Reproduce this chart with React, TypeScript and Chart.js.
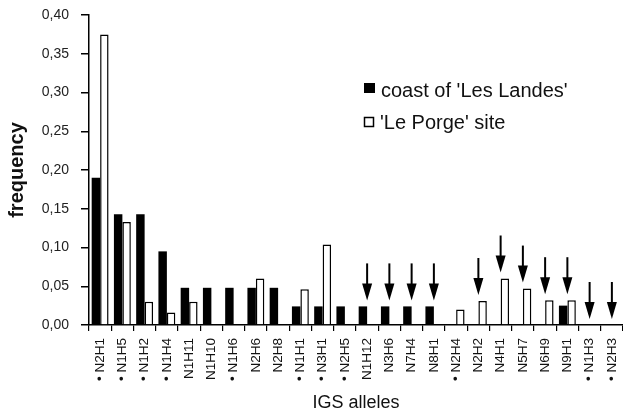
import React, { useEffect, useRef } from "react";
import { Chart, registerables } from "chart.js";

Chart.register(...registerables);

const alleles: string[] = [
  "• N2H1", "• N1H5", "• N1H2", "• N1H4", "N1H11", "N1H10", "• N1H6", "N2H6",
  "N2H8", "• N1H1", "• N3H1", "• N2H5", "N1H12", "N3H6", "N7H4", "N8H1",
  "• N2H4", "N2H2", "N4H1", "N5H7", "N6H9", "N9H1", "• N1H3", "• N2H3",
];

const coast: number[] = [
  0.19, 0.143, 0.143, 0.095, 0.048, 0.048, 0.048, 0.048,
  0.048, 0.024, 0.024, 0.024, 0.024, 0.024, 0.024, 0.024,
  0, 0, 0, 0, 0, 0.025, 0, 0,
];

const porge: number[] = [
  0.375, 0.133, 0.03, 0.016, 0.03, 0, 0, 0.06,
  0, 0.046, 0.104, 0, 0, 0, 0, 0,
  0.02, 0.031, 0.06, 0.047, 0.032, 0.032, 0, 0,
];

const arrowed: string[] = [
  "N1H12", "N3H6", "N7H4", "N8H1", "N2H2", "N4H1", "N5H7", "N6H9", "N9H1", "• N1H3", "• N2H3",
];

const seriesNames: string[] = ["coast of 'Les Landes'", "'Le Porge' site"];

const FONT = "'Liberation Sans', Arial, Helvetica, sans-serif";

const overlayPlugin = {
  id: "overlay",
  afterDatasetsDraw(chart: any) {
    const ctx = chart.ctx as CanvasRenderingContext2D;
    const xs = chart.scales.x;
    const ys = chart.scales.y;
    ctx.save();
    ctx.fillStyle = "#000";
    ctx.strokeStyle = "#000";
    for (const name of arrowed) {
      const i = alleles.indexOf(name);
      if (i < 0) continue;
      const v = Math.max(coast[i] || 0, porge[i] || 0);
      const x = xs.getPixelForValue(i);
      const tip = ys.getPixelForValue(v) - 6;
      ctx.lineWidth = 2;
      ctx.beginPath();
      ctx.moveTo(x, tip - 37);
      ctx.lineTo(x, tip - 15);
      ctx.stroke();
      ctx.beginPath();
      ctx.moveTo(x - 5, tip - 17);
      ctx.lineTo(x + 5, tip - 17);
      ctx.lineTo(x, tip);
      ctx.closePath();
      ctx.fill();
    }
    // legend
    ctx.fillStyle = "#000";
    ctx.fillRect(364, 83, 11, 10);
    ctx.lineWidth = 1.5;
    ctx.fillStyle = "#fff";
    ctx.fillRect(364.5, 117.5, 9, 9);
    ctx.strokeRect(364.5, 117.5, 9, 9);
    ctx.fillStyle = "#111";
    ctx.font = `20px ${FONT}`;
    ctx.textBaseline = "alphabetic";
    ctx.textAlign = "left";
    ctx.fillText(chart.data.datasets[0].label, 381, 97);
    ctx.fillText(chart.data.datasets[1].label, 380, 129);
    ctx.restore();
  },
};

export default function App() {
  const ref = useRef<HTMLCanvasElement | null>(null);

  useEffect(() => {
    if (!ref.current) return;
    const chart = new Chart(ref.current, {
      type: "bar",
      data: {
        labels: alleles,
        datasets: [
          {
            label: seriesNames[0],
            data: coast,
            backgroundColor: "#000",
            borderWidth: 0,
            categoryPercentage: 0.76,
            barPercentage: 1,
          },
          {
            label: seriesNames[1],
            data: porge,
            backgroundColor: "#fff",
            borderColor: "#000",
            borderWidth: 1.5,
            categoryPercentage: 0.76,
            barPercentage: 1,
          },
        ],
      },
      options: {
        animation: false,
        responsive: false,
        devicePixelRatio: 1,
        layout: { padding: { top: 15, left: 0, right: 0, bottom: 0 } },
        plugins: {
          legend: { display: false },
          tooltip: { enabled: false },
        },
        scales: {
          x: {
            afterFit: (s: any) => {
              s.height = 86;
              s.paddingLeft = 0;
              s.paddingRight = 0;
            },
            border: { color: "#000", width: 1.5 },
            grid: {
              display: true,
              drawOnChartArea: false,
              drawTicks: true,
              tickLength: 6,
              color: "#000",
              lineWidth: 1.2,
              offset: true,
            },
            ticks: {
              autoSkip: false,
              minRotation: 90,
              maxRotation: 90,
              padding: 7,
              color: "#111",
              font: { family: FONT, size: 13.5 },
            },
            title: {
              display: true,
              text: "IGS alleles",
              color: "#111",
              font: { family: FONT, size: 18 },
              padding: { top: 0, bottom: -3 },
            },
          },
          y: {
            min: 0,
            max: 0.4,
            afterFit: (s: any) => {
              s.width = 89;
              s.paddingTop = 0;
              s.paddingBottom = 0;
            },
            border: { color: "#000", width: 1.5 },
            grid: {
              display: true,
              drawOnChartArea: false,
              drawTicks: true,
              tickLength: 8,
              color: "#000",
              lineWidth: 1.5,
            },
            ticks: {
              stepSize: 0.05,
              padding: 12,
              color: "#222",
              font: { family: FONT, size: 14 },
              callback: (v: any) => Number(v).toFixed(2).replace(".", ","),
            },
            title: {
              display: true,
              text: "frequency",
              color: "#111",
              font: { family: FONT, size: 20, weight: "bold" },
              padding: { top: 5, bottom: 0 },
            },
          },
        },
      },
      plugins: [overlayPlugin],
    });
    return () => chart.destroy();
  }, []);

  return (
    <div style={{ position: "absolute", left: 0, top: 0, width: 623, height: 411, background: "#fff" }}>
      <canvas ref={ref} width={623} height={411} style={{ display: "block" }} />
    </div>
  );
}
